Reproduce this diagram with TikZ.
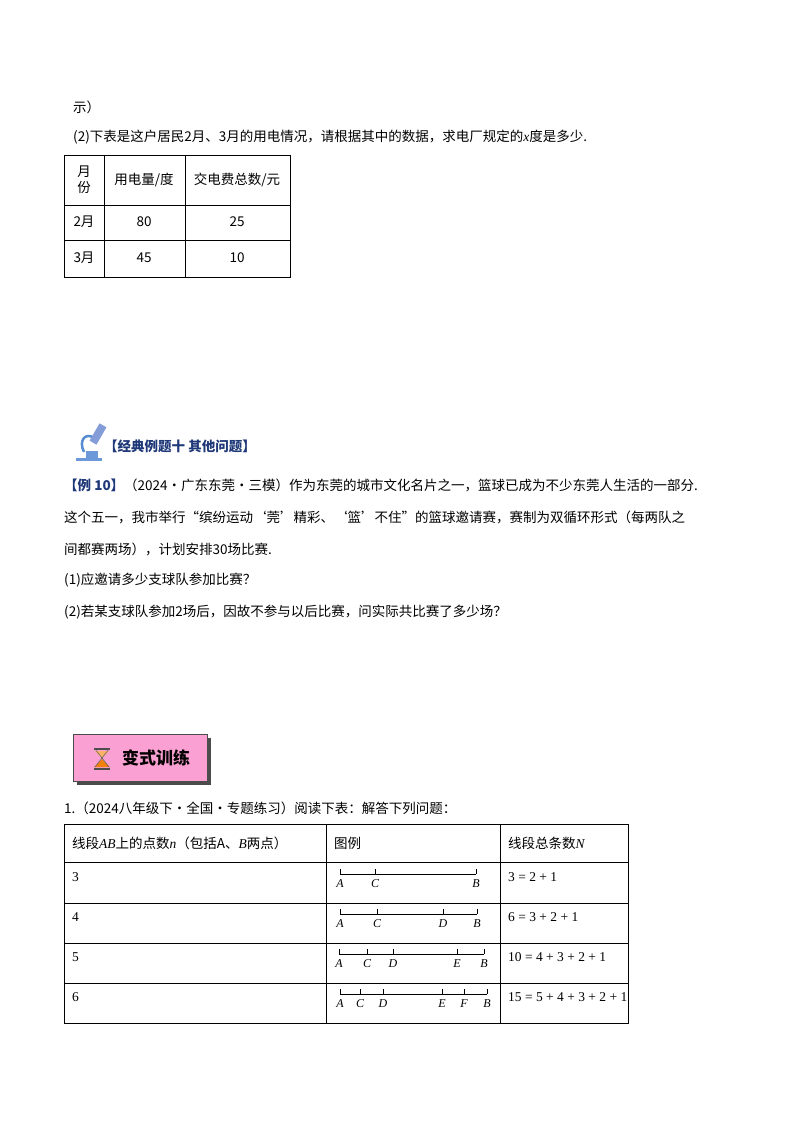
\documentclass[tikz,border=0pt]{standalone}
\usepackage{fontspec}
\setmainfont{Liberation Serif}
\newfontfamily\cjk{Noto Sans CJK SC}
\usetikzlibrary{positioning}
\definecolor{hdblue}{RGB}{31,56,120}
\definecolor{btnpink}{RGB}{250,160,210}
\begin{document}
\begin{tikzpicture}[x=1pt,y=-1pt,
		txt/.style={anchor=west,inner sep=0pt,font=\fontsize{13.5}{16}\selectfont\cjk},
		cell/.style={anchor=center,inner sep=0pt,font=\fontsize{13.5}{16}\selectfont\cjk},
		grid/.style={draw=black,line width=0.8pt},
		seg/.style={line width=0.7pt},
		ptlabel/.style={inner sep=0pt,font=\fontsize{12}{14}\selectfont\itshape}]
		
		\useasboundingbox (0,0) rectangle (800,1132);
		
		%question text
		\node[txt] (q0) at (73,107) {示）};
		\node[txt] (q1) at (73,137) {(2)下表是这户居民2月、3月的用电情况，请根据其中的数据，求电厂规定的{\rmfamily\itshape x}度是多少.};
		
		%table one
		\draw[grid] (64,155) rectangle (290,277);
		\draw[grid] (64,205) -- (290,205) (64,240) -- (290,240);
		\draw[grid] (104,155) -- (104,277) (185,155) -- (185,277);
		\node[cell,align=center] (t11) at (84,180) {月\\份};
		\node[cell] (t12) at (144,180) {用电量/度};
		\node[cell] (t13) at (237,180) {交电费总数/元};
		\node[cell] (t21) at (84,222) {2月};
		\node[cell] (t22) at (144,222) {80};
		\node[cell] (t23) at (237,222) {25};
		\node[cell] (t31) at (84,258) {3月};
		\node[cell] (t32) at (144,258) {45};
		\node[cell] (t33) at (237,258) {10};
		
		%example header with microscope
		\fill[cyan!50!blue!60] (76,458) rectangle (102,461);
		\fill[cyan!50!blue!60] (86,451) rectangle (98,458);
		\draw[cyan!50!blue!70,line width=2.5pt] (84,452) .. controls (78,440) and (86,432) .. (94,438);
		\fill[cyan!40!blue!50,rotate around={-30:(98,434)}] (94,424) rectangle (102,444);
		\node[txt,text=hdblue,font=\fontsize{13.5}{16}\selectfont\cjk\bfseries] (hd) at (104,446) {【经典例题十\ 其他问题】};
		
		\node[txt] (e1) at (64,485) {{\color{hdblue}\bfseries 【例 10】}（2024·广东东莞·三模）作为东莞的城市文化名片之一，篮球已成为不少东莞人生活的一部分.};
		\node[txt] (e2) at (64,517) {这个五一，我市举行“缤纷运动‘莞’精彩、‘篮’不住”的篮球邀请赛，赛制为双循环形式（每两队之};
		\node[txt] (e3) at (64,549) {间都赛两场），计划安排30场比赛.};
		\node[txt] (e4) at (64,580) {(1)应邀请多少支球队参加比赛？};
		\node[txt] (e5) at (64,612) {(2)若某支球队参加2场后，因故不参与以后比赛，问实际共比赛了多少场？};
		
		%training button
		\fill[black!70] (77,738) rectangle (211,785);
		\fill[btnpink,draw=black!70,line width=0.8pt] (73,734) rectangle (207,781);
		\fill[orange!60] (95,751) -- (109,751) -- (102,758) -- cycle;
		\fill[orange!80!brown] (102,759) -- (110,767) -- (94,767) -- cycle;
		\draw[black!70,line width=1.2pt] (94,749) -- (110,749) (94,769) -- (110,769);
		\draw[black!60,line width=0.6pt] (95,749) -- (109,767) (109,749) -- (95,767);
		\node[txt,font=\fontsize{17}{20}\selectfont\cjk\bfseries] (btn) at (122,758) {变式训练};
		
		\node[txt] (p1) at (64,808) {1.（2024八年级下·全国·专题练习）阅读下表：解答下列问题：};
		
		%table two
		\draw[grid] (64,824) rectangle (628,1023);
		\foreach \y in {862,903,943,983}
			\draw[grid] (64,\y) -- (628,\y);
		\draw[grid] (326,824) -- (326,1023) (500,824) -- (500,1023);
		\node[txt] (h1) at (72,843) {线段{\rmfamily\itshape AB}上的点数{\rmfamily\itshape n}（包括A、{\rmfamily\itshape B}两点）};
		\node[txt] (h2) at (334,843) {图例};
		\node[txt] (h3) at (508,843) {线段总条数{\rmfamily\itshape N}};
		\foreach \n/\y/\sum in {3/877/{3 = 2 + 1},4/917/{6 = 3 + 2 + 1},5/957/{10 = 4 + 3 + 2 + 1},6/997/{15 = 5 + 4 + 3 + 2 + 1}}
		{
			\node[txt,font=\fontsize{13.5}{16}\selectfont] at (72,\y) {\n};
			\node[txt,font=\fontsize{13.5}{16}\selectfont] at (508,\y) {\sum};
		}
		
		%segments
		\foreach \y/\pts in {
			877/{340/A,375/C,476/B},
			917/{340/A,377/C,443/D,477/B},
			957/{339/A,367/C,393/D,457/E,484/B},
			997/{340/A,360/C,383/D,442/E,464/F,487/B}}
		{
			\foreach \x/\lab [count=\k] in \pts
			{
				\draw[seg] (\x,\y-8) -- (\x,\y-3);
				\node[ptlabel] at (\x,\y+7) {\lab};
				\ifnum\k=1 \coordinate (s0) at (\x,\y-3); \fi
				\coordinate (s1) at (\x,\y-3);
			}
			\draw[seg] (s0) -- (s1);
		}
		
	\end{tikzpicture}
\end{document}
